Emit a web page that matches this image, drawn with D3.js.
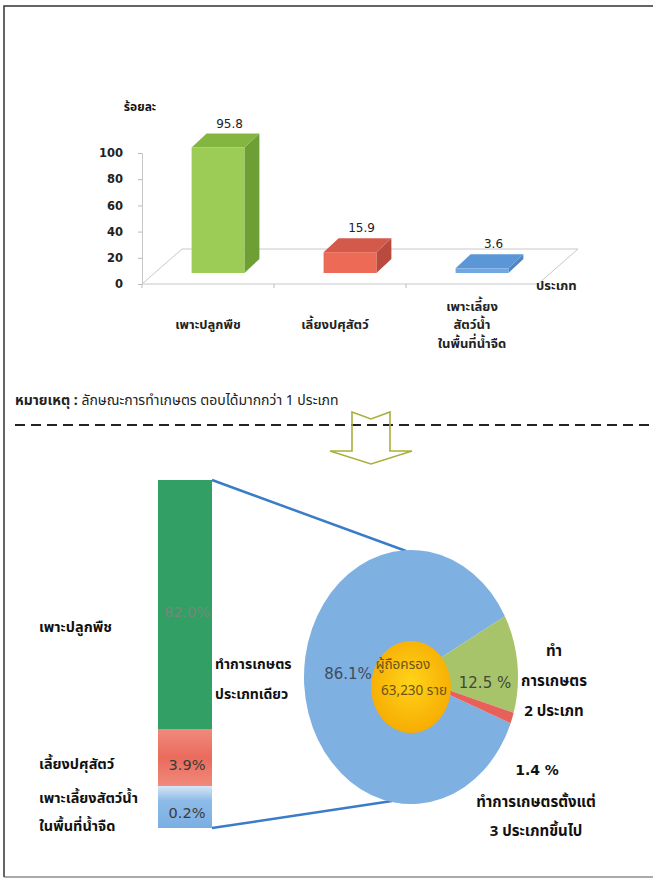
<!DOCTYPE html>
<html><head><meta charset="utf-8">
<script src="https://cdn.jsdelivr.net/npm/d3@7/dist/d3.min.js"></script>
<style>
html,body{margin:0;padding:0;background:#fff;}
svg{display:block;font-family:Tahoma,"Noto Sans Thai","Loma","Garuda","Noto Sans","DejaVu Sans",sans-serif;}
</style></head>
<body>
<svg id="c" width="655" height="881"></svg>
<script>
// ---------- data ----------
const topCategories = [["เพาะปลูกพืช"], ["เลี้ยงปศุสัตว์"], ["เพาะเลี้ยง","สัตว์น้ำ","ในพื้นที่น้ำจืด"]];
const topValues = [95.8, 15.9, 3.6];
const yTicks = [0, 20, 40, 60, 80, 100];
const yTitle = "ร้อยละ";
const xTitle = "ประเภท";
const noteBold = "หมายเหตุ :";
const noteText = " ลักษณะการทำเกษตร ตอบได้มากกว่า 1 ประเภท";

const stackNames = [["เพาะปลูกพืช"], ["เลี้ยงปศุสัตว์"], ["เพาะเลี้ยงสัตว์น้ำ","ในพื้นที่น้ำจืด"]];
const stackValues = [82.0, 3.9, 0.2];
const stackLabel = ["ทำการเกษตร", "ประเภทเดียว"];

const pieNames = ["ทำการเกษตรประเภทเดียว", "ทำการเกษตร 2 ประเภท", "ทำการเกษตรตั้งแต่ 3 ประเภทขึ้นไป"];
const pieValues = [86.1, 12.5, 1.4];
const centerText = ["ผู้ถือครอง", "63,230 ราย"];

const svg = d3.select("#c");
const defs = svg.append("defs");
const numFont = 'Tahoma,"DejaVu Sans",sans-serif';

// ---------- page frame ----------
svg.append("path").attr("d","M4,877 L4,6 L653,6").attr("fill","none").attr("stroke","#333").attr("stroke-width",1.5);
svg.append("line").attr("x1",4).attr("x2",653).attr("y1",877).attr("y2",877).attr("stroke","#555").attr("stroke-width",1);

// ---------- top 3D bar chart ----------
const y = d3.scaleLinear().domain([0,100]).range([284,153]);
const x = d3.scaleBand().domain(d3.range(topValues.length)).range([142,538]).paddingInner(0.6).paddingOuter(0.3);
const off = {dx:10, dy:-11};   // bar front plane offset
const dep = {dx:15, dy:-14};   // bar depth
const floorD = {dx:40, dy:-35};

const topG = svg.append("g");
const x0 = x.range()[0], x1 = x.range()[1], yb = y(0);
topG.append("path")
  .attr("d",`M${x0},${yb} L${x1},${yb} L${x1+floorD.dx},${yb+floorD.dy} L${x0+floorD.dx},${yb+floorD.dy} Z`)
  .attr("fill","none").attr("stroke","#c8c8c8").attr("stroke-width",1);
[0,1,2,3].forEach(i=>{
  const xx = x0 + i*x.step();
  topG.append("line").attr("x1",xx).attr("x2",xx).attr("y1",yb).attr("y2",yb+4).attr("stroke","#bbb");
});
const yAxis = d3.axisLeft(y).tickValues(yTicks).tickSize(4).tickPadding(15);
const ya = topG.append("g").attr("transform",`translate(${x0},0)`).call(yAxis);
ya.select(".domain").attr("stroke","#c8c8c8");
ya.selectAll(".tick line").attr("stroke","#bbb");
ya.selectAll(".tick text").attr("font-size",11.5).attr("font-weight","bold").attr("fill","#222").attr("font-family",numFont);
topG.append("text").attr("x",140).attr("y",111).attr("text-anchor","middle").attr("font-size",12).attr("font-weight","bold").attr("fill","#111").text(yTitle);
topG.append("text").attr("x",536).attr("y",290).attr("font-size",13).attr("font-weight","bold").attr("fill","#222").text(xTitle);

const barCols = [
  {front:"#9ccc55", side:"#6e9f34", top:"#82b640"},
  {front:"#ec6a56", side:"#b84a3e", top:"#d35a4b"},
  {front:"#6fa8e2", side:"#4c86c4", top:"#5b97d6"}
];
topValues.forEach((v,i)=>{
  const bx = x(i)+off.dx, bw = x.bandwidth();
  const yT = y(v)+off.dy, yB = y(0)+off.dy;
  const g = topG.append("g");
  g.append("path").attr("d",`M${bx+bw},${yT} L${bx+bw+dep.dx},${yT+dep.dy} L${bx+bw+dep.dx},${yB+dep.dy} L${bx+bw},${yB} Z`).attr("fill",barCols[i].side);
  g.append("path").attr("d",`M${bx},${yT} L${bx+dep.dx},${yT+dep.dy} L${bx+bw+dep.dx},${yT+dep.dy} L${bx+bw},${yT} Z`).attr("fill",barCols[i].top);
  g.append("rect").attr("x",bx).attr("y",yT).attr("width",bw).attr("height",yB-yT).attr("fill",barCols[i].front);
  g.append("text").attr("x",bx+bw/2+dep.dx/2+4).attr("y",yT+dep.dy-6).attr("text-anchor","middle")
    .attr("font-size",12).attr("fill","#222").attr("font-family",numFont).text(v.toFixed(1));
});
topCategories.forEach((lines,i)=>{
  const cx = x(i)+x.bandwidth()/2 - (i===1?5:0);
  const n = lines.length;
  lines.forEach((t,j)=>{
    topG.append("text").attr("x",cx).attr("y",329 + (j-(n-1)/2)*18.5).attr("text-anchor","middle")
      .attr("font-size",13).attr("font-weight","bold").attr("fill","#222").text(t);
  });
});

// note
const note = svg.append("text").attr("x",15).attr("y",405).attr("font-size",14).attr("fill","#222");
note.append("tspan").attr("font-weight","bold").text(noteBold);
note.append("tspan").text(noteText);

// dashed separator
svg.append("line").attr("x1",15).attr("x2",650).attr("y1",425).attr("y2",425)
  .attr("stroke","#222").attr("stroke-width",2).attr("stroke-dasharray","10,6");

// arrow (notched tail, outline only)
const ac = 371;
svg.append("path")
  .attr("d",`M${ac-19},412 L${ac},419 L${ac+19},412 L${ac+19},451 L${ac+41},451 L${ac},464 L${ac-41},451 L${ac-19},451 Z`)
  .attr("fill","none").attr("stroke","#a9b03c").attr("stroke-width",1.6).attr("stroke-linejoin","miter");

// ---------- stacked bar ----------
const cum = [0];
[...stackValues].reverse().forEach(v=>cum.push(+(cum[cum.length-1]+v).toFixed(2)));
// broken (piecewise) scale as in the original graphic
const ys = d3.scaleLinear().domain(cum).range([828,786,729,480]);
const sx = 158, sw = 54;
const gradR = defs.append("linearGradient").attr("id","gr").attr("x1",0).attr("x2",0).attr("y1",0).attr("y2",1);
gradR.append("stop").attr("offset","0").attr("stop-color","#f08a7c");
gradR.append("stop").attr("offset","0.5").attr("stop-color","#ea6b5c");
gradR.append("stop").attr("offset","1").attr("stop-color","#f08a7c");
const gradB = defs.append("linearGradient").attr("id","gb").attr("x1",0).attr("x2",0).attr("y1",0).attr("y2",1);
gradB.append("stop").attr("offset","0").attr("stop-color","#d6e6f6");
gradB.append("stop").attr("offset","0.35").attr("stop-color","#8ebbe8");
gradB.append("stop").attr("offset","1").attr("stop-color","#7aaee2");
const fills = ["#32a065","url(#gr)","url(#gb)"];
const segs = stackValues.map((v,i)=>{
  const below = stackValues.slice(i+1).reduce((a,b)=>a+b,0);
  return {v, lo: below, hi: below+v, i};
});
segs.forEach(s=>{
  svg.append("rect").attr("x",sx).attr("y",ys(s.hi)).attr("width",sw).attr("height",ys(s.lo)-ys(s.hi)).attr("fill",fills[s.i]);
});
const pctCols = ["#72887a","#3a3a3a","#3a3a3a"];
const pctY = [612, 765, 813];
segs.forEach(s=>{
  svg.append("text").attr("x",sx+sw/2+2).attr("y",pctY[s.i]+5).attr("text-anchor","middle")
    .attr("font-size",14.5).attr("fill",pctCols[s.i]).attr("font-family",numFont)
    .text(s.v.toFixed(1)+"%");
});
const nameY = [[627],[764],[798,826]];
stackNames.forEach((lines,i)=>{
  lines.forEach((t,j)=>{
    svg.append("text").attr("x",39).attr("y",nameY[i][j]+5).attr("font-size",14.5).attr("font-weight","bold").attr("fill","#111").text(t);
  });
});
stackLabel.forEach((t,j)=>{
  svg.append("text").attr("x",215).attr("y",669+j*30).attr("font-size",14).attr("font-weight","bold").attr("fill","#111").text(t);
});

// ---------- pie ----------
const pcx = 411, pcy = 677, rx = 107, ry = 127;
svg.append("line").attr("x1",sx+sw).attr("y1",ys(cum[cum.length-1])).attr("x2",406).attr("y2",551).attr("stroke","#3a7cc8").attr("stroke-width",2.5);
svg.append("line").attr("x1",sx+sw).attr("y1",ys(0)).attr("x2",392).attr("y2",801).attr("stroke","#3a7cc8").attr("stroke-width",2.5);

const pieCols = ["#7eb0e2","#a8c46a","#e8605a"];
const startA = 111.4*Math.PI/180;
const pie = d3.pie().sort(null).startAngle(startA).endAngle(startA+2*Math.PI);
const arc = d3.arc().innerRadius(0).outerRadius(rx);
const pg = svg.append("g").attr("transform",`translate(${pcx},${pcy}) scale(1,${ry/rx})`);
pg.selectAll("path").data(pie(pieValues)).join("path").attr("d",arc).attr("fill",(d,i)=>pieCols[i]);

const gy = defs.append("radialGradient").attr("id","gy").attr("cx","0.5").attr("cy","0.45").attr("r","0.6");
gy.append("stop").attr("offset","0").attr("stop-color","#ffd31a");
gy.append("stop").attr("offset","1").attr("stop-color","#f6a900");
svg.append("ellipse").attr("cx",411).attr("cy",687).attr("rx",40).attr("ry",46).attr("fill","url(#gy)");
svg.append("text").attr("x",403).attr("y",669).attr("text-anchor","middle").attr("font-size",13.5).attr("fill","#6b5418").text(centerText[0]);
svg.append("text").attr("x",414).attr("y",695).attr("text-anchor","middle").attr("font-size",13.5).attr("fill","#6b5418").text(centerText[1]);

svg.append("text").attr("x",348).attr("y",679).attr("text-anchor","middle").attr("font-size",15).attr("fill","#3e4c5c")
  .attr("font-family",numFont).text(pieValues[0].toFixed(1)+"%");
svg.append("text").attr("x",485).attr("y",688).attr("text-anchor","middle").attr("font-size",15).attr("fill","#3f4a36")
  .attr("font-family",numFont).text(pieValues[1].toFixed(1)+" %");

const rl1 = ["ทำ","การเกษตร","2 ประเภท"];
rl1.forEach((t,j)=>svg.append("text").attr("x",554).attr("y",656+j*30).attr("text-anchor","middle").attr("font-size",15).attr("font-weight","bold").attr("fill","#111").text(t));
svg.append("text").attr("x",537).attr("y",775).attr("text-anchor","middle").attr("font-size",14).attr("font-weight","bold").attr("fill","#111")
  .attr("font-family",numFont).text(pieValues[2].toFixed(1)+" %");
["ทำการเกษตรตั้งแต่","3 ประเภทขึ้นไป"].forEach((t,j)=>svg.append("text").attr("x",536).attr("y",807+j*29).attr("text-anchor","middle").attr("font-size",15).attr("font-weight","bold").attr("fill","#111").text(t));
</script>
</body></html>
